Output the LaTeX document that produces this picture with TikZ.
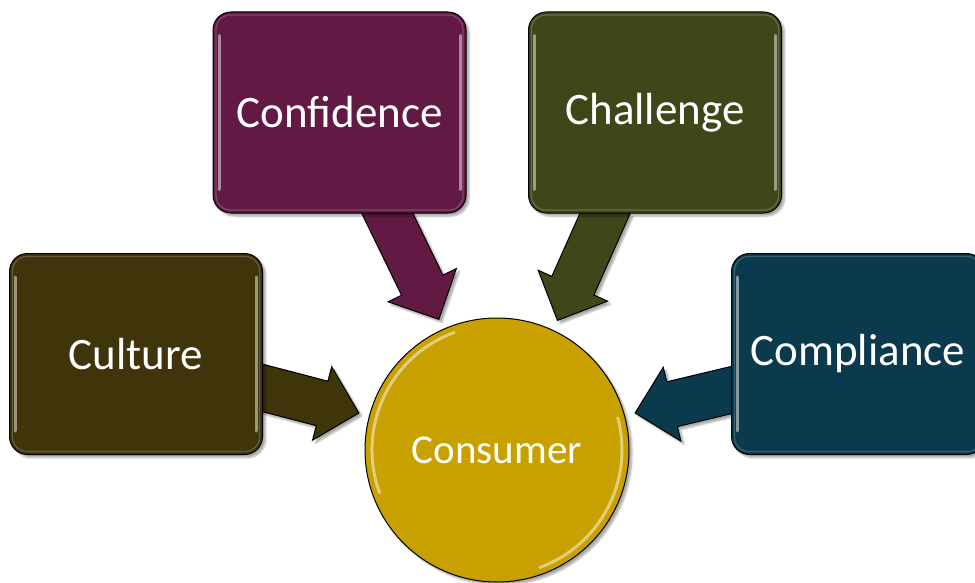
\documentclass[tikz,border=0pt]{standalone}
\usepackage{fontspec}
\setmainfont{Carlito}
\usetikzlibrary{calc,shadows.blur,backgrounds}
\definecolor{confc}{HTML}{621A44}
\definecolor{chalc}{HTML}{3D4719}
\definecolor{cultc}{HTML}{40340A}
\definecolor{compc}{HTML}{0A3A4C}
\definecolor{consc}{HTML}{C8A000}
\tikzset{
  boxnode/.style={rectangle, rounded corners=18pt, minimum width=253pt, minimum height=201pt,
    inner sep=0pt, draw=black, line width=1pt, text=white,
    font=\fontsize{45}{54}\selectfont,
    blur shadow={shadow xshift=3pt, shadow yshift=-3pt, shadow blur steps=6, shadow opacity=35}},
  circnode/.style={circle, minimum size=264pt, inner sep=0pt, outer sep=11pt, draw=black,
    line width=1pt, fill=consc, text=white, font=\fontsize{41}{50}\selectfont,
    blur shadow={shadow xshift=3pt, shadow yshift=-3pt, shadow blur steps=6, shadow opacity=35}},
  arrowbody/.style={draw=black, line width=1pt, line join=miter,
    blur shadow={shadow xshift=3pt, shadow yshift=-3pt, shadow blur steps=5, shadow opacity=35}},
  glossline/.style={line width=3pt, line cap=round, opacity=0.8},
}
\newcommand\blockarrow[3]{%
  \draw[arrowbody, fill=#3]
    ($(#1)!23pt!90:(#2)$) --
    ($(#2)!38pt!(#1)!23pt!-90:(#1)$) --
    ($(#2)!38pt!(#1)!38pt!-90:(#1)$) --
    (#2) --
    ($(#2)!38pt!(#1)!38pt!90:(#1)$) --
    ($(#2)!38pt!(#1)!23pt!90:(#1)$) --
    ($(#1)!23pt!-90:(#2)$) -- cycle;
}
\newcommand\glossbox[2]{%
  \draw[#2!60!white, opacity=0.5, line width=1.2pt, rounded corners=14pt]
    ($(#1.north west)+(3.5,3.5)$) rectangle ($(#1.south east)+(-3.5,-3.5)$);
  \draw[glossline, #2!40!white] ($(#1.north west)+(6.5,24)$) -- ($(#1.south west)+(6.5,-24)$);
  \draw[glossline, #2!40!white] ($(#1.north east)+(-6.5,24)$) -- ($(#1.south east)+(-6.5,-24)$);
}
\begin{document}
\begin{tikzpicture}[x=1pt, y=-1pt]
  \useasboundingbox (0,0) rectangle (975,583);
  % boxes and circle
  \node[boxnode, fill=confc] (conf) at (339.5,112.5) {Confidence};
  \node[boxnode, fill=chalc] (chal) at (655,112.5) {Challenge};
  \node[boxnode, fill=cultc] (cult) at (136,354) {Culture};
  \node[boxnode, fill=compc] (comp) at (858,354) {Compliance};
  \node[circnode] (cons) at (497,450) {Consumer};
  \glossbox{conf}{confc}
  \glossbox{chal}{chalc}
  \glossbox{cult}{cultc}
  \glossbox{comp}{compc}
  \draw[glossline, consc!40!white] ($(cons.center)+(160:125)$) arc[start angle=160, end angle=250, radius=125];
  \draw[glossline, consc!40!white] ($(cons.center)+(-15:125)$) arc[start angle=-15, end angle=70, radius=125];
  % arrow start points
  \coordinate (ca) at ($(conf.south)+(43,-10)$);
  \coordinate (ha) at ($(chal.south)+(-46,-9)$);
  \coordinate (ua) at ($(cult.east)+(-9.7,31.5)$);
  \coordinate (pa) at ($(comp.west)+(9.7,33.8)$);
  \begin{pgfonlayer}{background}
    \blockarrow{ca}{cons.114.4}{confc}
    \blockarrow{ha}{cons.65.2}{chalc}
    \blockarrow{ua}{cons.165.1}{cultc}
    \blockarrow{pa}{cons.15.4}{compc}
  \end{pgfonlayer}
\end{tikzpicture}
\end{document}
